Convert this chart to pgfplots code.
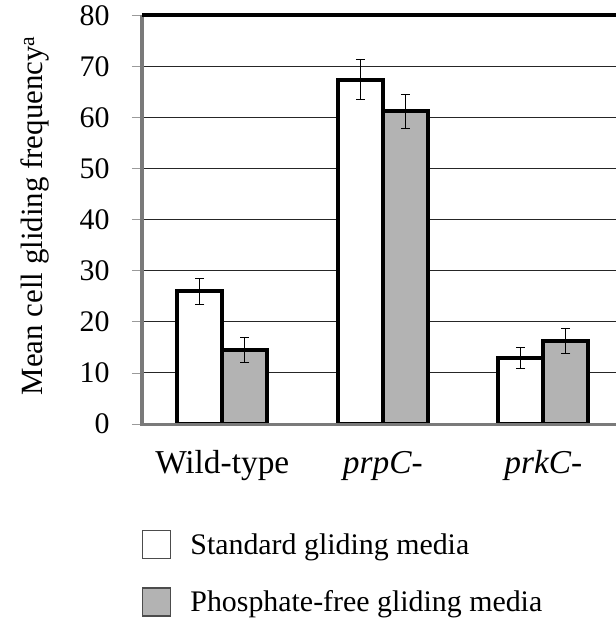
\documentclass[border=0pt]{standalone}
\usepackage{fontspec}
\setmainfont{Liberation Serif}
\usepackage{pgfplots}
\pgfplotsset{compat=1.18}
\definecolor{barGray}{HTML}{B3B3B3}
\definecolor{axGray}{HTML}{7A7A7A}
\definecolor{tickGray}{HTML}{9A9A9A}
\begin{document}
\begin{tikzpicture}
\begin{axis}[
  at={(142bp,-424bp)}, anchor=south west,
  scale only axis, width=474bp, height=408.7bp,
  xmin=-0.5, xmax=2.453, ymin=0, ymax=80,
  ytick={0,10,...,80},
  xtick={0,1,2},
  xticklabels={Wild-type,\textit{prpC-},\textit{prkC-}},
  minor xtick={-0.5,0.5,1.5},
  xtick pos=bottom, ytick pos=left,
  tick align=outside,
  major tick length=10bp, minor tick length=11bp,
  xtick style={draw=none},
  ytick style={tickGray, line width=0.8bp},
  minor x tick style={tickGray, line width=0.8bp},
  axis line style={draw=none},
  ymajorgrids, grid style={black!85, line width=0.9bp},
  /pgf/number format/assume math mode=true,
  yticklabel style={font=\fontsize{30}{36}\selectfont, xshift=-19bp},
  xticklabel style={font=\fontsize{33.5}{40}\selectfont, anchor=base, yshift=-39bp},
  ylabel={Mean cell gliding frequency\textsuperscript{a}},
  every axis y label/.style={at={(rel axis cs:0,0.5)}, xshift=-99bp, yshift=4bp, rotate=90, anchor=base, font=\fontsize{31}{37}\selectfont},
  clip=false,
  ybar=0pt, bar width=45bp,
  legend style={at={(rel axis cs:0,0)}, anchor=north west, draw=none, fill=none,
    font=\fontsize{30}{36}\selectfont, xshift=-3bp, yshift=-104bp,
    row sep=28bp, legend cell align=left,
    nodes={inner sep=2bp}},
  legend image code/.code={\draw[line width=1.2bp, draw=black!70, #1] (0bp,-14bp) rectangle (28bp,14bp);},
]
\addplot[fill=white, draw=black, line width=4bp,
  error bars/.cd, y dir=both, y explicit,
  error bar style={black, line width=0.9bp},
  error mark options={rotate=90, mark size=4.5bp, black, line width=0.9bp}]
  coordinates {(0,26.0) +- (0,2.5) (1,67.4) +- (0,3.9) (2,12.9) +- (0,2.0)};
\addplot[fill=barGray, draw=black, line width=4bp,
  error bars/.cd, y dir=both, y explicit,
  error bar style={black, line width=0.9bp},
  error mark options={rotate=90, mark size=4.5bp, black, line width=0.9bp}]
  coordinates {(0,14.5) +- (0,2.5) (1,61.2) +- (0,3.3) (2,16.3) +- (0,2.5)};
\legend{\hspace{17bp}Standard gliding media,\hspace{17bp}Phosphate-free gliding media}
\draw[axGray, line width=3bp] (rel axis cs:0,0) -- (rel axis cs:1,0);
\draw[axGray, line width=3.5bp] (rel axis cs:0,-0.004) -- (rel axis cs:0,1);
\draw[black, line width=4bp] (rel axis cs:0,1) -- (rel axis cs:1,1);
\end{axis}
\pgfresetboundingbox
\path[use as bounding box] (0,0) rectangle (616bp,-628bp);
\end{tikzpicture}
\end{document}
